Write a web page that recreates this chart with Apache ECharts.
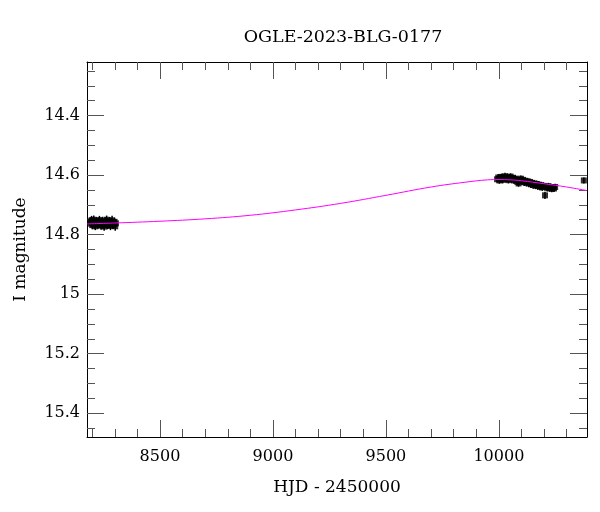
<!DOCTYPE html>
<html>
<head>
<meta charset="utf-8">
<script src="https://cdn.jsdelivr.net/npm/echarts@6/dist/echarts.min.js"></script>
<style>html,body{margin:0;padding:0;background:#fff}#c{width:600px;height:512px}</style>
</head>
<body>
<div id="c"></div>
<script>
const titleText = 'OGLE-2023-BLG-0177';
const xName = 'HJD - 2450000';
const yName = 'I magnitude';
const xMin = 8177, xMax = 10390;
const yMin = 14.22, yMax = 15.48;
const xMajor = [8500, 9000, 9500, 10000];
const xMinor = [8200,8300,8400,8600,8700,8800,8900,9100,9200,9300,9400,9600,9700,9800,9900,10100,10200,10300];
const yMajor = [14.4, 14.6, 14.8, 15, 15.2, 15.4];
const yMinor = [14.25,14.3,14.35,14.45,14.5,14.55,14.65,14.7,14.75,14.85,14.9,14.95,15.05,15.1,15.15,15.25,15.3,15.35,15.45];

// observed data (HJD-2450000, I mag, error)
const obsHJD = [8191,8194,8197,8200,8204,8207,8211,8214,8218,8221,8225,8228,8232,8236,8239,8243,8246,8250,8253,8257,8260,8264,8267,8271,8274,8278,8281,8285,8288,8292,8295,8299,8302,8305,
  9992,9997,10002,10007,10012,10017,10022,10027,10032,10037,10042,10047,10052,10057,10062,10067,10072,10077,10082,10087,10092,10097,10102,10107,10112,10117,10122,10127,10132,10137,10142,10147,10152,10157,10162,10167,10172,10177,10182,10187,10192,10197,10204,10209,10214,10219,10224,10229,10234,10239,10244,10249,10376];
const obsMag = [14.756,14.763,14.752,14.768,14.760,14.750,14.765,14.772,14.755,14.761,14.767,14.758,14.751,14.764,14.770,14.760,14.754,14.766,14.773,14.757,14.762,14.750,14.768,14.760,14.765,14.755,14.771,14.761,14.752,14.767,14.764,14.757,14.772,14.762,
  14.614,14.608,14.618,14.611,14.606,14.616,14.610,14.604,14.613,14.608,14.617,14.609,14.605,14.614,14.610,14.618,14.612,14.615,14.623,14.628,14.618,14.612,14.621,14.616,14.624,14.619,14.626,14.621,14.628,14.623,14.631,14.626,14.633,14.628,14.635,14.630,14.637,14.632,14.639,14.634,14.641,14.636,14.668,14.639,14.643,14.637,14.644,14.640,14.646,14.641,14.645,14.640,14.618];
const obsErr = [0.014,0.013,0.015,0.014,0.013,0.014,0.015,0.013,0.014,0.014,0.013,0.015,0.014,0.013,0.014,0.015,0.014,0.013,0.014,0.015,0.013,0.014,0.014,0.015,0.013,0.014,0.014,0.013,0.015,0.014,0.013,0.014,0.015,0.014,
  0.011,0.012,0.011,0.013,0.011,0.012,0.011,0.012,0.011,0.013,0.011,0.012,0.011,0.012,0.011,0.012,0.013,0.011,0.012,0.011,0.012,0.011,0.012,0.011,0.013,0.011,0.012,0.011,0.012,0.011,0.012,0.011,0.013,0.011,0.012,0.011,0.012,0.011,0.012,0.011,0.012,0.011,0.012,0.011,0.012,0.011,0.012,0.011,0.012,0.011,0.012,0.011,0.010];

// model curve
const modelHJD = [8177,8300,8500,8700,8900,9100,9300,9500,9700,9850,9950,10000,10050,10100,10200,10300,10390];
const modelMag = [14.764,14.761,14.755,14.747,14.735,14.717,14.695,14.668,14.640,14.624,14.616,14.615,14.616,14.619,14.629,14.640,14.652];

const FONT = 'DejaVu Serif';
const obsData = obsHJD.map((x, i) => [x, obsMag[i], obsErr[i]]);
const modelData = modelHJD.map((x, i) => [x, modelMag[i]]);
const fmt = v => String(Math.round(v * 100) / 100);

function xAxisDef(pos, major) {
  return {
    type: 'value', min: xMin, max: xMax, position: pos, gridIndex: 0,
    axisLine: { show: major, lineStyle: { color: '#000', width: 1 } },
    axisTick: { show: true, inside: true, length: major ? 17 : 8, customValues: major ? xMajor : xMinor, lineStyle: { color: '#555', width: 1 } },
    axisLabel: { show: pos === 'bottom' && major, customValues: xMajor, formatter: fmt, fontFamily: FONT, fontSize: 16, color: '#000', margin: 12 },
    splitLine: { show: false },
    name: (pos === 'bottom' && major) ? xName : '',
    nameLocation: 'middle', nameGap: 42,
    nameTextStyle: { fontFamily: FONT, fontSize: 17, color: '#000' }
  };
}
function yAxisDef(pos, major) {
  return {
    type: 'value', min: yMin, max: yMax, inverse: true, position: pos, gridIndex: 0,
    axisLine: { show: major, lineStyle: { color: '#000', width: 1 } },
    axisTick: { show: true, inside: true, length: major ? 17 : 8, customValues: major ? yMajor : yMinor, lineStyle: { color: '#555', width: 1 } },
    axisLabel: { show: pos === 'left' && major, customValues: yMajor, formatter: fmt, fontFamily: FONT, fontSize: 16, color: '#000', margin: 7 },
    splitLine: { show: false },
    name: (pos === 'left' && major) ? yName : '',
    nameLocation: 'middle', nameGap: 58, nameRotate: 90,
    nameTextStyle: { fontFamily: FONT, fontSize: 17, color: '#000' }
  };
}

const chart = echarts.init(document.getElementById('c'));
chart.setOption({
  backgroundColor: '#fff',
  animation: false,
  textStyle: { fontFamily: FONT },
  title: { text: titleText, left: 338, top: 23, textAlign: 'center', textStyle: { fontFamily: FONT, fontSize: 17.5, fontWeight: 'normal', color: '#000' } },
  grid: { left: 87, top: 62, width: 500, height: 375, containLabel: false },
  xAxis: [xAxisDef('bottom', true), xAxisDef('bottom', false), xAxisDef('top', true), xAxisDef('top', false)],
  yAxis: [yAxisDef('left', true), yAxisDef('left', false), yAxisDef('right', true), yAxisDef('right', false)],
  series: [
    {
      type: 'custom', xAxisIndex: 0, yAxisIndex: 0, data: obsData, clip: true, z: 2,
      renderItem: function (params, api) {
        const x = api.value(0), y = api.value(1), e = api.value(2);
        const p1 = api.coord([x, y - e]), p2 = api.coord([x, y + e]);
        return { type: 'line', shape: { x1: p1[0], y1: p1[1], x2: p2[0], y2: p2[1] }, style: { stroke: '#000', lineWidth: 1.5 } };
      }
    },
    {
      type: 'scatter', xAxisIndex: 0, yAxisIndex: 0, data: obsData.map(d => [d[0], d[1]]),
      symbol: 'rect', symbolSize: 6, itemStyle: { color: '#000' }, z: 3, clip: true
    },
    {
      type: 'line', xAxisIndex: 0, yAxisIndex: 0, data: modelData, smooth: 0.4, showSymbol: false, symbol: 'none',
      lineStyle: { color: '#ff00ff', width: 1 }, z: 4, clip: true
    }
  ]
});
</script>
</body>
</html>
